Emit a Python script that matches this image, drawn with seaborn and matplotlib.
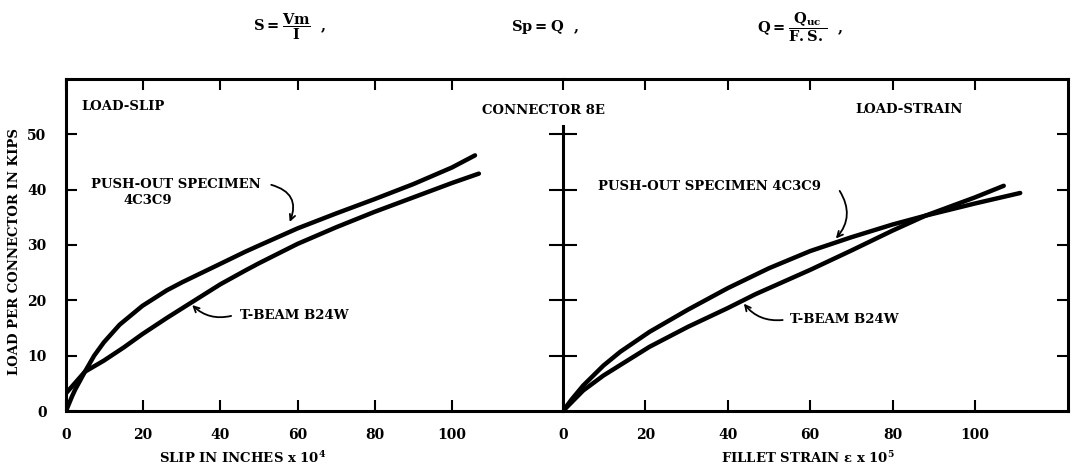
import numpy as np
import pandas as pd
import matplotlib.pyplot as plt
import seaborn as sns

sns.set_style("white")
plt.rcParams["font.family"] = ["DejaVu Serif"]
plt.rcParams["font.weight"] = "bold"
plt.rcParams["mathtext.fontset"] = "dejavuserif"
plt.rcParams["mathtext.default"] = "bf"
plt.rcParams["text.color"] = "black"
plt.rcParams["xtick.color"] = "black"
plt.rcParams["ytick.color"] = "black"

# load-slip curves (slip in inches x 10^4, load in kips)
slip_push = [0, 1.6, 2.4, 4.9, 7.3, 9.8, 13.9, 19.8, 26.1, 30.2, 40, 46.5, 50, 60, 70, 80, 90, 100, 106]
load_push_slip = [0, 2.7, 3.9, 7.1, 10, 12.4, 15.6, 19, 21.8, 23.3, 26.6, 28.8, 29.9, 33, 35.7, 38.3, 41, 44, 46.2]
slip_beam = [0, 4.9, 9.8, 15, 19.8, 26.1, 32.7, 40, 46.5, 50, 60, 70, 80, 90, 100, 107]
load_beam_slip = [3.2, 7.1, 9.1, 11.5, 13.9, 16.8, 19.7, 22.9, 25.4, 26.7, 30.2, 33.2, 36, 38.6, 41.2, 42.9]

# load-strain curves (fillet strain x 10^5)
strain_push = [0, 2, 4.9, 9.8, 13.9, 21, 30.3, 40, 50, 60, 70, 80, 88, 100, 111]
load_push_strain = [0, 2, 4.6, 8.2, 10.7, 14.3, 18.3, 22.2, 25.8, 28.9, 31.4, 33.7, 35.3, 37.5, 39.4]
strain_beam = [0, 4.9, 9.8, 21, 30.3, 40, 46.7, 60, 70, 80, 88, 100, 107]
load_beam_strain = [0, 3.7, 6.4, 11.6, 15.2, 18.6, 21.1, 25.5, 29, 32.6, 35.3, 38.6, 40.7]

x_ticks = [0, 20, 40, 60, 80, 100]
y_ticks = [0, 10, 20, 30, 40, 50]

fig = plt.figure(figsize=(10.75, 4.69), dpi=100)
L, M, R, B, T = 66 / 1075, 563 / 1075, 1068 / 1075, 1 - 411 / 469, 1 - 79 / 469
ax1 = fig.add_axes([L, B, M - L, T - B])
ax2 = fig.add_axes([M, B, R - M, T - B])

lw_curve = 3.2
sns.lineplot(x=slip_push, y=load_push_slip, ax=ax1, color="black", lw=lw_curve)
sns.lineplot(x=slip_beam, y=load_beam_slip, ax=ax1, color="black", lw=lw_curve)
sns.lineplot(x=strain_push, y=load_push_strain, ax=ax2, color="black", lw=lw_curve)
sns.lineplot(x=strain_beam, y=load_beam_strain, ax=ax2, color="black", lw=lw_curve)

ax1.set_xlim(0, 128.8)
ax2.set_xlim(0, 122.6)
for ax in (ax1, ax2):
    ax.set_ylim(0, 60)
    ax.set_xticks(x_ticks)
    ax.set_yticks(y_ticks)
    ax.set_xlabel("")
    ax.set_ylabel("")
    for s in ax.spines.values():
        s.set_linewidth(2.2)
        s.set_color("black")

ax1.spines["right"].set_visible(False)
ax1.tick_params(axis="x", direction="in", top=True, bottom=True, length=8, width=1.5,
                labelsize=10, pad=12)
ax1.tick_params(axis="y", direction="in", left=True, right=False, length=8, width=1.5,
                labelsize=10, pad=14)

ax2.spines["left"].set_bounds(0, 51.5)
ax2.tick_params(axis="x", direction="in", top=True, bottom=True, length=8, width=1.5,
                labelsize=10, pad=12)
ax2.tick_params(axis="y", direction="inout", left=True, length=20, width=1.5,
                labelleft=False)
ax2.set_yticks(y_ticks[1:])
ax3 = ax2.twinx()
ax3.set_ylim(0, 60)
ax3.set_yticks(y_ticks[1:])
ax3.tick_params(axis="y", direction="in", right=True, length=8, width=1.5, labelright=False)
for s in ax3.spines.values():
    s.set_visible(False)

fs = 9.5
arrow = dict(arrowstyle="->", lw=1.3, color="black")
ax1.text(3.9, 55, "LOAD-SLIP", fontsize=fs, va="center")
ax1.text(6.5, 41, "PUSH-OUT SPECIMEN", fontsize=fs, va="center")
ax1.text(15, 38, "4C3C9", fontsize=fs, va="center")
ax1.annotate("", xy=(57.7, 33.7), xytext=(52.5, 41),
             arrowprops=dict(arrow, connectionstyle="arc3,rad=-0.6"))
ax1.text(45, 17.3, "T-BEAM B24W", fontsize=fs, va="center")
ax1.annotate("", xy=(32.2, 19.5), xytext=(43.5, 17.3),
             arrowprops=dict(arrow, connectionstyle="arc3,rad=-0.3"))

ax2.text(70.9, 54.5, "LOAD-STRAIN", fontsize=fs, va="center")
ax2.text(8.5, 40.5, "PUSH-OUT SPECIMEN 4C3C9", fontsize=fs, va="center")
ax2.annotate("", xy=(65.8, 30.8), xytext=(66.8, 40.2),
             arrowprops=dict(arrow, connectionstyle="arc3,rad=-0.4"))
ax2.text(55, 16.5, "T-BEAM B24W", fontsize=fs, va="center")
ax2.annotate("", xy=(43.5, 19.8), xytext=(54, 16.5),
             arrowprops=dict(arrow, connectionstyle="arc3,rad=-0.3"))

fig.text(543 / 1075, 1 - 110 / 469, "CONNECTOR 8E", fontsize=fs, ha="center", va="center")

fig.text(243 / 1075, 1 - 458 / 469, r"SLIP IN INCHES x 10$^4$", fontsize=fs,
         ha="center", va="center")
fig.text(808 / 1075, 1 - 458 / 469, r"FILLET STRAIN $\epsilon$ x 10$^5$", fontsize=fs,
         ha="center", va="center")
fig.text(15 / 1075, 1 - 252 / 469, "LOAD PER CONNECTOR IN KIPS", fontsize=fs,
         rotation=90, ha="center", va="center")

fig.text(290 / 1075, 1 - 27 / 469, r"$S = \dfrac{Vm}{I}$  ,", fontsize=10.5,
         ha="center", va="center")
fig.text(545 / 1075, 1 - 27 / 469, r"$Sp = Q$  ,", fontsize=10.5, ha="center", va="center")
fig.text(800 / 1075, 1 - 27 / 469, r"$Q = \dfrac{Q_{uc}}{F.S.}$  ,", fontsize=10.5,
         ha="center", va="center")

fig.savefig("out.png", dpi=100)
